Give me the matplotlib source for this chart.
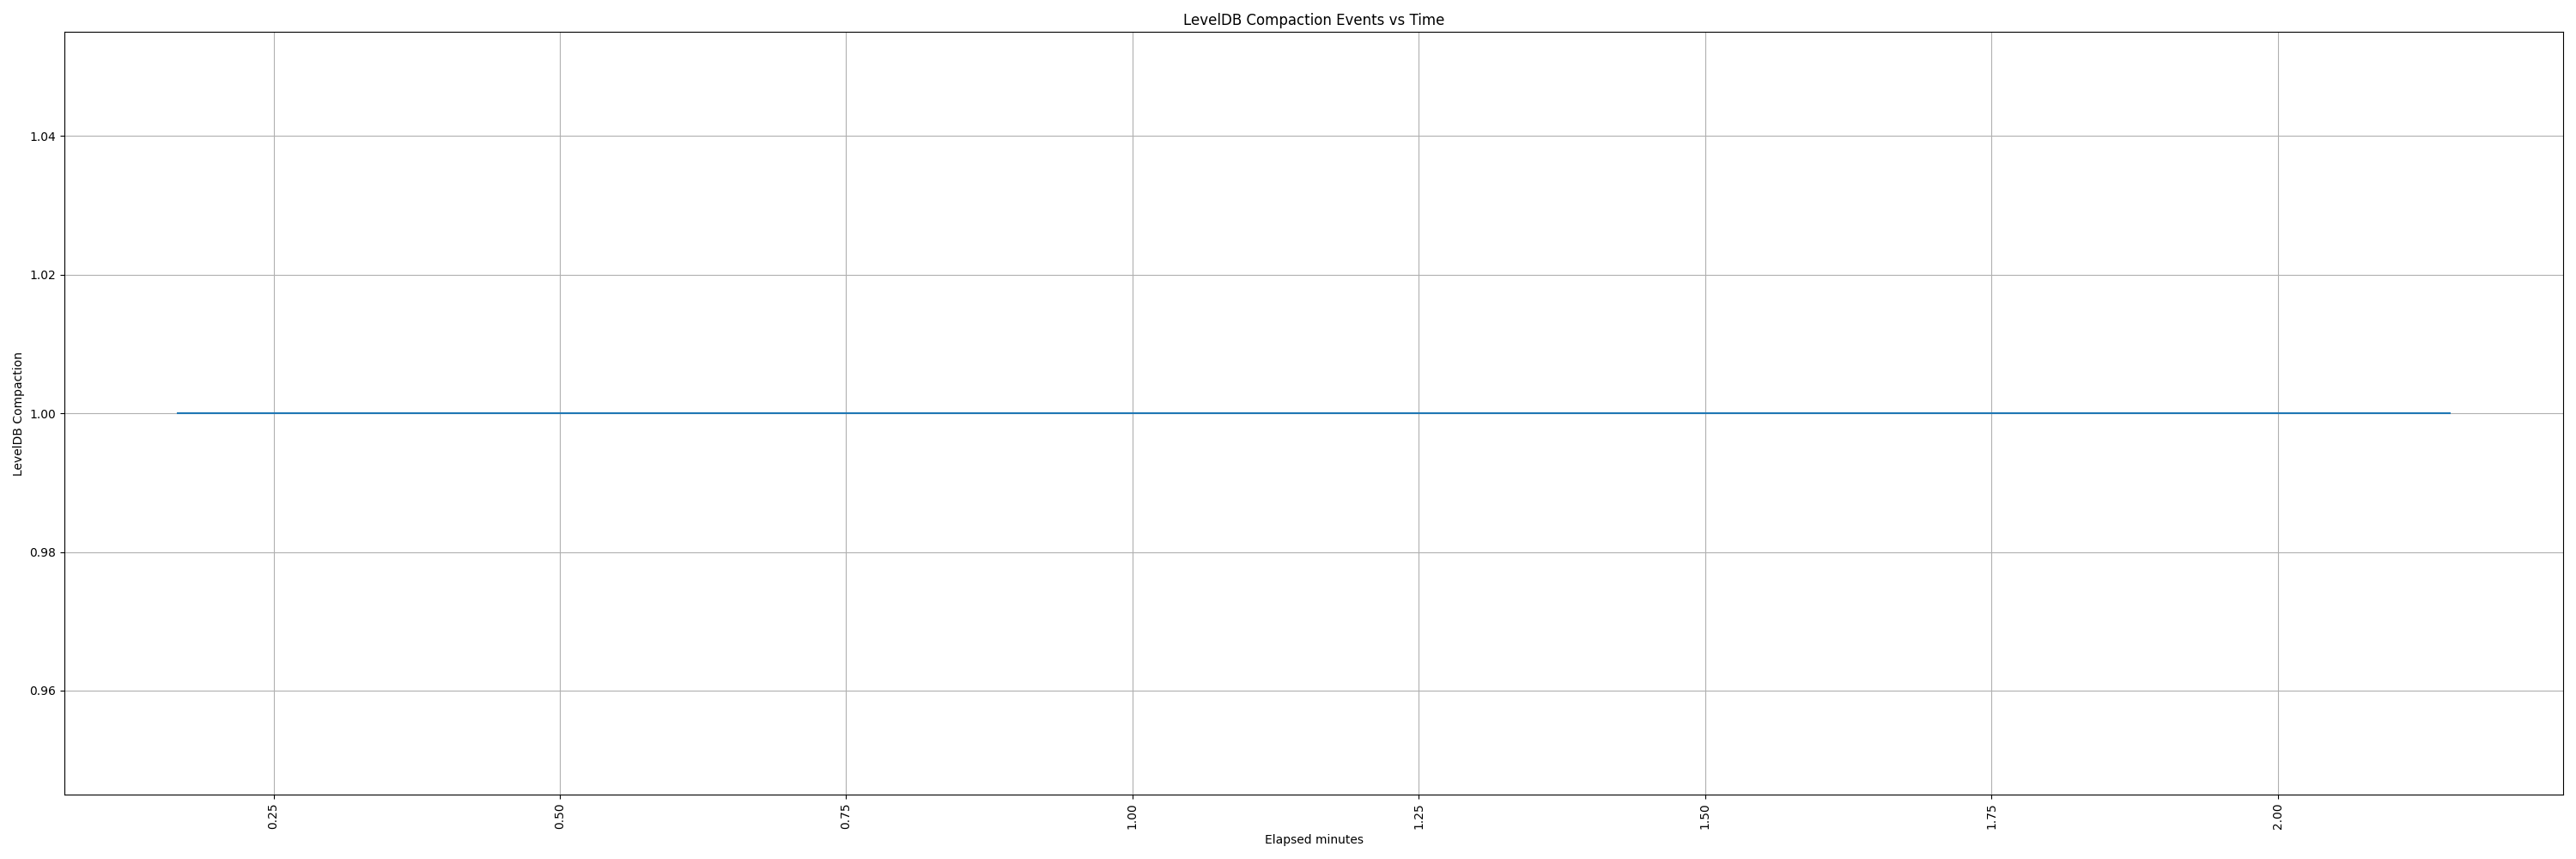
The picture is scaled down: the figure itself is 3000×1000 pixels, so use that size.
import matplotlib
matplotlib.use("Agg")
import matplotlib.pyplot as plt

# compaction events (elapsed minutes) -> count
elapsed_min = [0.1667, 0.45, 0.78, 1.05, 1.32, 1.61, 1.88, 2.15]
compaction = [1, 1, 1, 1, 1, 1, 1, 1]

fig, ax = plt.subplots(figsize=(30, 10), dpi=100)
ax.plot(elapsed_min, compaction, color="#1f77b4", lw=1.5)
ax.set_title("LevelDB Compaction Events vs Time")
ax.set_xlabel("Elapsed minutes")
ax.set_ylabel("LevelDB Compaction")
ax.grid(True)
plt.xticks(rotation=90)
plt.tight_layout()
fig.savefig("out.png", dpi=100)
plt.close(fig)
